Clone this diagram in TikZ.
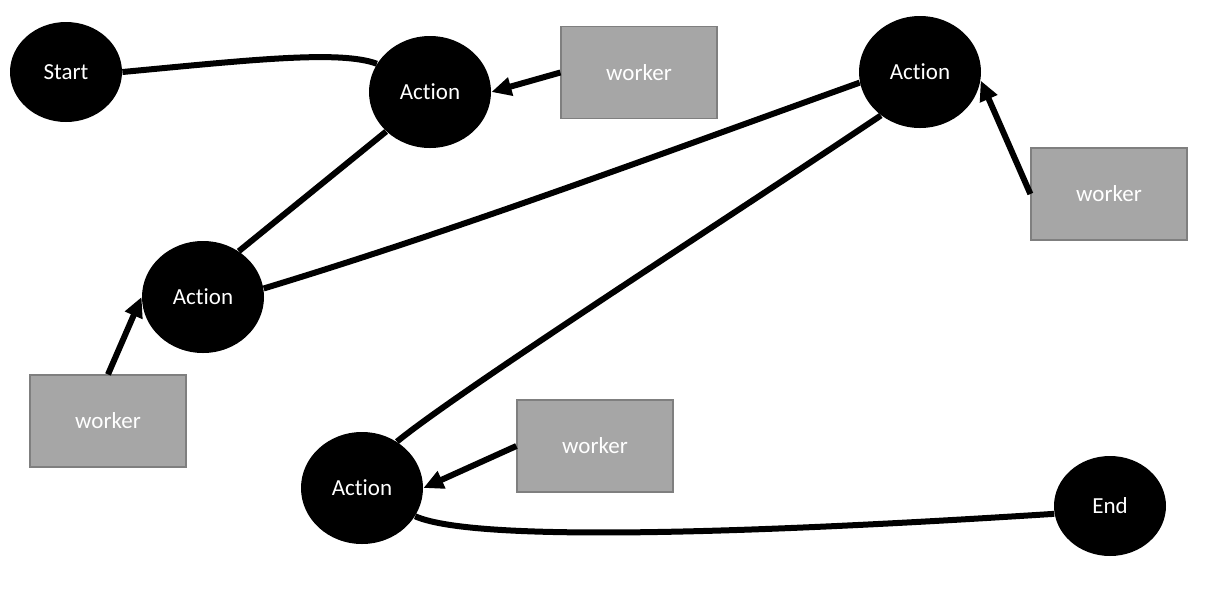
\documentclass[tikz,border=0pt]{standalone}
\usepackage{fontspec}
\setmainfont{Carlito}[Ligatures={NoCommon}]
\usetikzlibrary{shapes.geometric,arrows.meta,backgrounds}
\definecolor{boxfill}{HTML}{A6A6A6}
\definecolor{boxline}{HTML}{7F7F7F}
\tikzset{
  act/.style={ellipse,fill=black,text=white,minimum width=61pt,minimum height=56pt,inner sep=0pt,font=\fontsize{11.5}{13}\selectfont},
  term/.style={act,minimum width=56pt,minimum height=50pt},
  worker/.style={rectangle,fill=boxfill,draw=boxline,line width=0.6pt,text=white,minimum width=78pt,minimum height=46pt,inner sep=0pt,font=\fontsize{11.5}{13}\selectfont},
  link/.style={line width=3pt,black},
  feed/.style={line width=3pt,black,-{Triangle[length=10pt,width=9pt]}}
}
\begin{document}
\begin{tikzpicture}[x=0.5pt,y=-0.5pt]
\useasboundingbox (0,0) rectangle (1207,591);
\node[term] (start) at (66,72) {Start};
\node[act] (a1) at (430,92) {Action};
\node[act] (a2) at (203,297) {Action};
\node[act] (a3) at (920,72) {Action};
\node[act] (a4) at (362,488) {Action};
\node[term] (end) at (1110,506) {End};
\node[worker] (w1) at (639,72.5) {worker};
\node[worker] (w2) at (1109,194) {worker};
\node[worker] (w3) at (108,421) {worker};
\node[worker] (w4) at (595,446) {worker};
\begin{scope}[on background layer]
\draw[link] (start.east) .. controls (250,60) and (340,50) .. (a1.152);
\draw[link] (a1.222) -- (a2.52);
\draw[link] (a2.8) .. controls (463,228) and (663,153) .. (a3.190);
\draw[link] (a3.228) .. controls (740,210) and (460,390) .. (a4.53);
\draw[link] (a4.-28) .. controls (480,545) and (800,530) .. (end.188);
\end{scope}
\draw[feed] (w1.west) -- (a1.east);
\draw[feed] (w2.west) -- (a3.-8);
\draw[feed] (w3.north) -- (a2.west);
\draw[feed] (w4.west) -- (a4.east);
\end{tikzpicture}
\end{document}
